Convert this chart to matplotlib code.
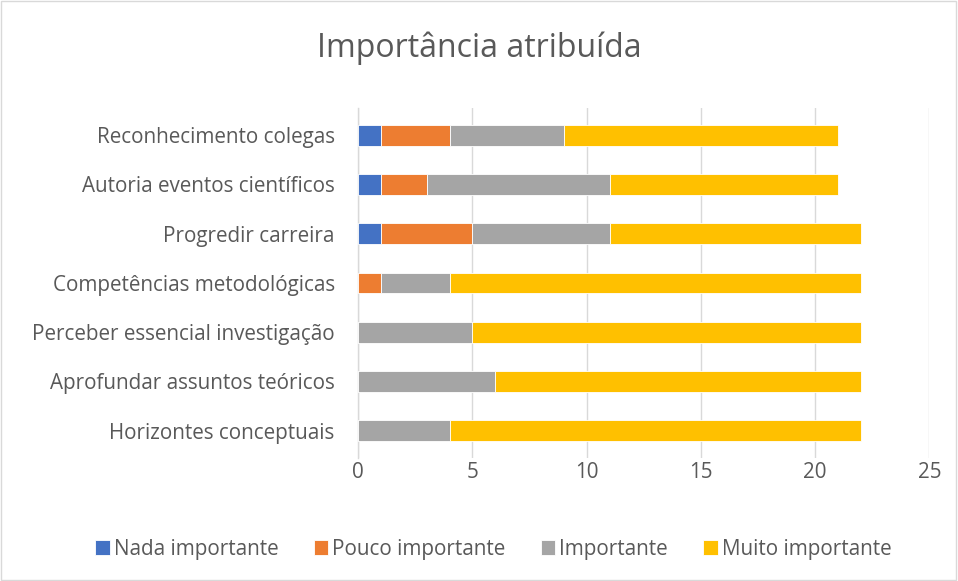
import matplotlib.pyplot as plt
import numpy as np

categories = ['Horizontes conceptuais', 'Aprofundar assuntos teóricos',
              'Perceber essencial investigação', 'Competências metodológicas',
              'Progredir carreira', 'Autoria eventos científicos',
              'Reconhecimento colegas']
nada = [0, 0, 0, 0, 1, 1, 1]
pouco = [0, 0, 0, 1, 4, 2, 3]
importante = [4, 6, 5, 3, 6, 8, 5]
muito = [18, 16, 17, 18, 11, 10, 12]

series = [('Nada importante', nada, '#4472C4'),
          ('Pouco importante', pouco, '#ED7D31'),
          ('Importante', importante, '#A5A5A5'),
          ('Muito importante', muito, '#FFC000')]

plt.rcParams['font.family'] = ['Open Sans', 'DejaVu Sans']

fig = plt.figure(figsize=(9.58, 5.81), dpi=100)
ax = fig.add_axes([0.374, 0.212, 0.596, 0.602])

y = np.arange(len(categories))
left = np.zeros(len(categories))
for name, vals, color in series:
    ax.barh(y, vals, left=left, height=0.42, color=color, label=name,
            edgecolor='white', linewidth=0.6, zorder=3)
    left += np.array(vals)

ax.set_xlim(0, 25)
ax.set_ylim(-0.55, len(categories) - 0.45)
ax.set_xticks([0, 5, 10, 15, 20, 25])
ax.set_yticks(y)
ax.set_yticklabels(categories)
ax.tick_params(length=0, labelsize=14.9, colors='#595959')
ax.tick_params(axis='y', pad=17)
ax.tick_params(axis='x', pad=3)
ax.grid(axis='x', color='#D9D9D9', linewidth=1, zorder=0)
for s in ['top', 'right', 'bottom']:
    ax.spines[s].set_visible(False)
ax.spines['left'].set_color('#D9D9D9')
ax.spines['left'].set_linewidth(1)

fig.suptitle('Importância atribuída', y=0.945, fontsize=23, color='#595959')

fig.legend(loc='center', bbox_to_anchor=(0.515, 0.055), ncol=4, frameon=False,
           fontsize=14.9, handlelength=0.7, handleheight=0.7,
           handletextpad=0.2, columnspacing=1.7, labelcolor='#595959')

fig.patches.append(plt.Rectangle((0.001, 0.001), 0.997, 0.997,
                                 transform=fig.transFigure, fill=False,
                                 edgecolor='#D9D9D9', linewidth=1))

fig.savefig('out.png', dpi=100)
